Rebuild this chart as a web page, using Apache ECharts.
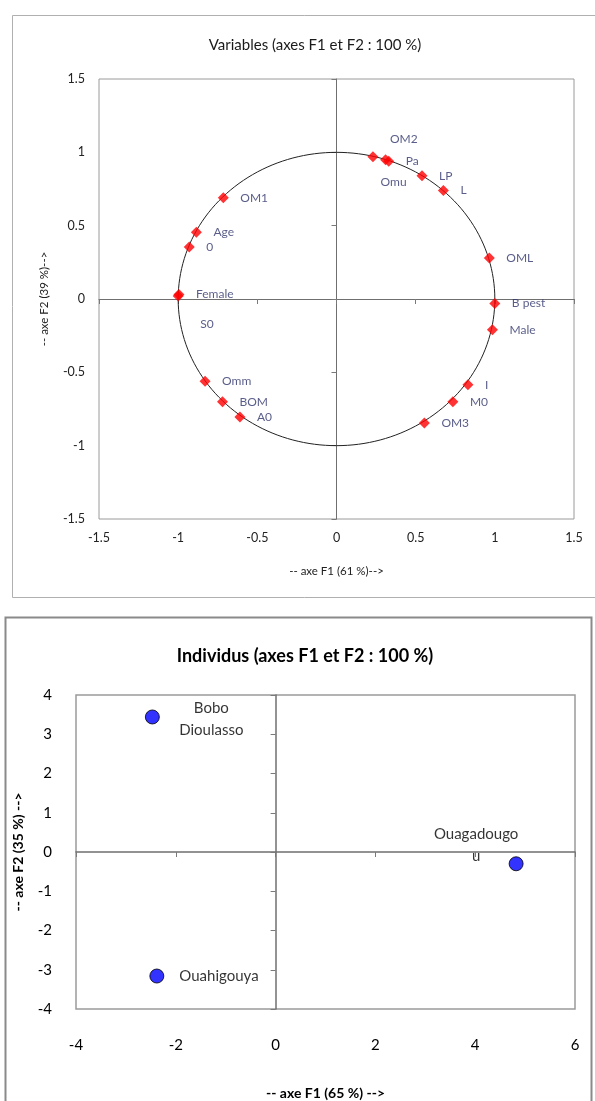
<!DOCTYPE html>
<html>
<head>
<meta charset="utf-8">
<script src="https://cdn.jsdelivr.net/npm/echarts@6/dist/echarts.min.js"></script>
<style>
html,body{margin:0;padding:0;background:#fff;}
#chart{width:595px;height:1101px;}
</style>
</head>
<body>
<div id="chart"></div>
<script>
// ---- Data: correlation circle (variables) ----
const varNames = ['OM2','Pa','Omu','LP','L','OML','B pest','Male','I','M0','OM3','A0','BOM','Omm','S0','Female','0','Age','OM1'];
const varF1 = [0.23, 0.33, 0.31, 0.54, 0.675, 0.965, 1.0, 0.985, 0.83, 0.735, 0.555, -0.61, -0.72, -0.83, -1.0, -0.995, -0.93, -0.885, -0.715];
const varF2 = [0.97, 0.94, 0.95, 0.84, 0.74, 0.28, -0.03, -0.21, -0.585, -0.70, -0.845, -0.805, -0.70, -0.56, 0.02, 0.03, 0.355, 0.455, 0.69];

// ---- Data: individuals ----
const siteNames = ['Bobo Dioulasso', 'Ouagadougou', 'Ouahigouya'];
const siteLabels = ['Bobo\nDioulasso', 'Ouagadougo\nu', 'Ouahigouya'];
const siteF1 = [-2.47, 4.82, -2.38];
const siteF2 = [3.44, -0.30, -3.16];

// ---- Axis ticks ----
const varTicks = { min: -1.5, max: 1.5, interval: 0.5 };
const siteXTicks = { min: -4, max: 6, interval: 2 };
const siteYTicks = { min: -4, max: 4, interval: 1 };

// unit circle (reference curve of the correlation circle)
const circle = [];
for (let i = 0; i <= 360; i += 2) {
  const a = i * Math.PI / 180;
  circle.push([Math.cos(a), Math.sin(a)]);
}

// label placement (style only)
const defaultOffset = [17, 0];
const labelOffsets = { 'OM2': [17, -18], 'Omu': [-5, 22], 'S0': [22, 28] };

const FONT = 'Lato, "Open Sans", sans-serif';

const varData = varNames.map((n, i) => ({
  name: n,
  value: [varF1[i], varF2[i]],
  label: { offset: labelOffsets[n] || defaultOffset }
}));

const siteLabelStyle = [
  { position: 'inside', align: 'center', offset: [59, 2] },
  { position: 'inside', align: 'center', offset: [-40, -19] },
  { position: 'right', distance: 15 }
];
const siteData = siteNames.map((n, i) => ({
  name: n,
  value: [siteF1[i], siteF2[i]],
  label: Object.assign({ formatter: siteLabels[i] }, siteLabelStyle[i])
}));

const chart = echarts.init(document.getElementById('chart'), null, { renderer: 'canvas' });

function labelAxis(grid, ticks, extra) {
  return Object.assign({
    type: 'value', gridIndex: grid,
    min: ticks.min, max: ticks.max, interval: ticks.interval,
    axisLine: { show: false }, axisTick: { show: false },
    splitLine: { show: false }
  }, extra);
}
function zeroAxis(grid, ticks, pos) {
  return {
    type: 'value', gridIndex: grid, position: pos,
    min: ticks.min, max: ticks.max, interval: ticks.interval,
    axisLine: { show: true, onZero: true, lineStyle: { color: '#6f6f6f', width: grid === 0 ? 1 : 1.5 } },
    axisTick: { show: true, inside: true, length: 5, lineStyle: { color: '#7a7a7a' } },
    axisLabel: { show: false }, splitLine: { show: false }
  };
}

chart.setOption({
  animation: false,
  backgroundColor: '#fff',
  graphic: [
    { type: 'rect', shape: { x: 12.5, y: 15.5, width: 600, height: 582 }, style: { fill: 'none', stroke: '#b0b0b0', lineWidth: 1 }, silent: true },
    { type: 'rect', shape: { x: 5.5, y: 617.5, width: 586, height: 520 }, style: { fill: 'none', stroke: '#8a8a8a', lineWidth: 2 }, silent: true }
  ],
  title: [
    { text: 'Variables (axes F1 et F2 : 100 %)', left: 310, top: 33, textAlign: 'center',
      textStyle: { fontFamily: FONT, fontSize: 15, fontWeight: 'normal', color: '#1a1a1a' } },
    { text: 'Individus (axes F1 et F2 : 100 %)', left: 300, top: 642, textAlign: 'center',
      textStyle: { fontFamily: FONT, fontSize: 18, fontWeight: 'bold', color: '#000' } }
  ],
  grid: [
    { left: 99, top: 79, width: 475, height: 440, show: true, borderColor: '#9a9a9a', borderWidth: 1, backgroundColor: 'transparent' },
    { left: 76, top: 695, width: 499, height: 318, show: true, borderColor: '#9a9a9a', borderWidth: 1.5, backgroundColor: 'transparent' }
  ],
  xAxis: [
    labelAxis(0, varTicks, {
      position: 'bottom',
      name: '-- axe F1 (61 %)-->', nameLocation: 'middle', nameGap: 46,
      nameTextStyle: { fontFamily: FONT, fontSize: 11.5, color: '#222' },
      axisLabel: { fontFamily: FONT, fontSize: 12.5, color: '#222', margin: 12 }
    }),
    zeroAxis(0, varTicks, 'top'),
    labelAxis(1, siteXTicks, {
      position: 'bottom',
      name: '-- axe F1 (65 %) -->', nameLocation: 'middle', nameGap: 77,
      nameTextStyle: { fontFamily: FONT, fontSize: 14, fontWeight: 'bold', color: '#000' },
      axisLabel: { fontFamily: FONT, fontSize: 15, color: '#000', margin: 29 }
    }),
    zeroAxis(1, siteXTicks, 'top')
  ],
  yAxis: [
    labelAxis(0, varTicks, {
      position: 'left',
      name: '-- axe F2 (39 %)-->', nameLocation: 'middle', nameGap: 49,
      nameTextStyle: { fontFamily: FONT, fontSize: 11.5, color: '#222' },
      axisLabel: { fontFamily: FONT, fontSize: 12.5, color: '#222', margin: 14 }
    }),
    zeroAxis(0, varTicks, 'right'),
    labelAxis(1, siteYTicks, {
      position: 'left',
      name: '-- axe F2 (35 %) -->', nameLocation: 'middle', nameGap: 51,
      nameTextStyle: { fontFamily: FONT, fontSize: 14, fontWeight: 'bold', color: '#000' },
      axisLabel: { fontFamily: FONT, fontSize: 15, color: '#000', margin: 24 }
    }),
    zeroAxis(1, siteYTicks, 'right')
  ],
  series: [
    {
      type: 'line', xAxisIndex: 0, yAxisIndex: 0, data: circle,
      showSymbol: false, smooth: false, silent: true,
      lineStyle: { color: '#222', width: 1 }, z: 2
    },
    {
      type: 'scatter', xAxisIndex: 0, yAxisIndex: 0, data: varData,
      symbol: 'diamond', symbolSize: 11,
      itemStyle: { color: '#ff0000' }, z: 5,
      label: {
        show: true, position: 'inside', align: 'left', verticalAlign: 'middle',
        formatter: '{b}', fontFamily: FONT, fontSize: 12, color: '#2f346c'
      }
    },
    {
      type: 'scatter', xAxisIndex: 2, yAxisIndex: 2, data: siteData,
      symbol: 'circle', symbolSize: 14,
      itemStyle: { color: '#0000ff', borderColor: '#000', borderWidth: 1 }, z: 5,
      label: {
        show: true, fontFamily: FONT, fontSize: 15, color: '#000', lineHeight: 22
      }
    }
  ]
});
</script>
</body>
</html>
